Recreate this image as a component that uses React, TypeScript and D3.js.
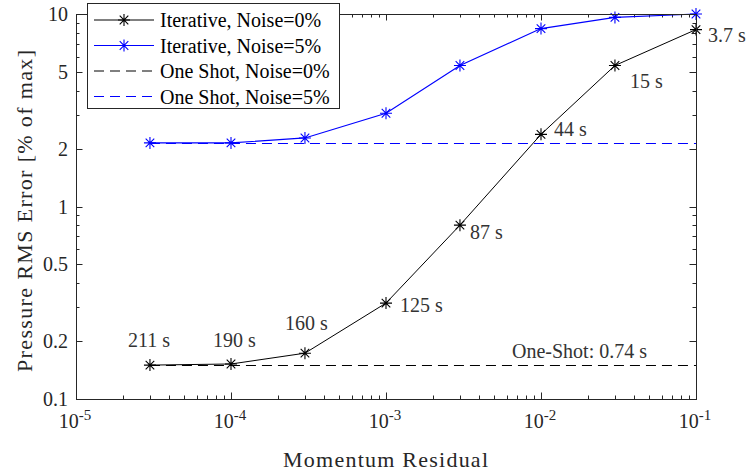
import React, { useEffect, useRef } from 'react'
import * as d3 from 'd3'

// momentum residual (x) and pressure RMS error in % of max (y)
const residuals = [3e-5, 1e-4, 3e-4, 1e-3, 3e-3, 1e-2, 3e-2, 1e-1]
const errIterNoise0 = [0.15, 0.152, 0.173, 0.315, 0.8, 2.37, 5.4, 8.3]
const errIterNoise5 = [2.14, 2.14, 2.27, 3.05, 5.4, 8.4, 9.6, 10.0]
const errOneShotNoise0 = 0.15
const errOneShotNoise5 = 2.13
const iterTimes = ['211 s', '190 s', '160 s', '125 s', '87 s', '44 s', '15 s', '3.7 s']
const oneShotTime = 'One-Shot: 0.74 s'
// pixel offsets of the time labels from their points
const timeOffsets: [number, number][] = [
  [-22, -18], [-18, -17], [-20, -23], [14, 9], [10, 14], [13, 2], [15, 22], [12, 12],
]
const yTicks = [0.1, 0.2, 0.5, 1, 2, 5, 10]
const xTickExps = [-5, -4, -3, -2, -1]
const legendLabels = [
  'Iterative, Noise=0%',
  'Iterative, Noise=5%',
  'One Shot, Noise=0%',
  'One Shot, Noise=5%',
]

const W = 750
const H = 475
const margin = { left: 76, right: 54, top: 14, bottom: 76 }
const FONT = 'Liberation Serif, DejaVu Serif, serif'
const AX = '#262626'
const BLUE = '#0000ff'

export default function App() {
  const ref = useRef<SVGSVGElement>(null)

  useEffect(() => {
    const svg = d3.select(ref.current)
    svg.selectAll('*').remove()

    const x0 = margin.left
    const x1 = W - margin.right
    const y0 = H - margin.bottom
    const y1 = margin.top

    const x = d3.scaleLog().domain([1e-5, 1e-1]).range([x0, x1])
    const y = d3.scaleLog().domain([0.1, 10]).range([y0, y1])

    const g = svg.append('g')

    // minor + major ticks, all four sides, pointing inward
    const xMinor: number[] = []
    for (let e = -5; e < -1; e++) for (let m = 2; m <= 9; m++) xMinor.push(m * Math.pow(10, e))
    const yMinor: number[] = []
    for (let e = -1; e < 1; e++) for (let m = 2; m <= 9; m++) yMinor.push(m * Math.pow(10, e))

    const tickG = g.append('g').attr('stroke', AX).attr('stroke-width', 1)
    const xMajor = xTickExps.map(e => Math.pow(10, e))
    const addX = (vals: number[], len: number) => {
      vals.forEach(v => {
        const px = Math.round(x(v)) + 0.5
        tickG.append('line').attr('x1', px).attr('x2', px).attr('y1', y0).attr('y2', y0 - len)
        tickG.append('line').attr('x1', px).attr('x2', px).attr('y1', y1).attr('y2', y1 + len)
      })
    }
    const addY = (vals: number[], len: number) => {
      vals.forEach(v => {
        const py = Math.round(y(v)) + 0.5
        tickG.append('line').attr('y1', py).attr('y2', py).attr('x1', x0).attr('x2', x0 + len)
        tickG.append('line').attr('y1', py).attr('y2', py).attr('x1', x1).attr('x2', x1 - len)
      })
    }
    addX(xMinor, 3.5)
    addX(xMajor, 6.5)
    addY(yMinor, 3.5)
    addY(yTicks, 6.5)

    // one-shot reference lines
    const dashed = (val: number, color: string) => {
      const py = Math.round(y(val)) + 0.5
      g.append('line')
        .attr('x1', x(residuals[0])).attr('x2', x(residuals[residuals.length - 1]))
        .attr('y1', py).attr('y2', py)
        .attr('stroke', color).attr('stroke-width', 1.1)
        .attr('stroke-dasharray', '10,6')
    }
    dashed(errOneShotNoise5, BLUE)
    dashed(errOneShotNoise0, '#000')

    const line = d3.line<[number, number]>().x(d => x(d[0])).y(d => y(d[1]))

    const star = (sel: d3.Selection<SVGGElement, unknown, null, undefined>, color: string) => {
      const r = 6
      const d = 4.3
      sel.append('path')
        .attr('d', `M0,${-r}V${r}M${-r},0H${r}M${-d},${-d}L${d},${d}M${-d},${d}L${d},${-d}`)
        .attr('stroke', color).attr('stroke-width', 1.1).attr('fill', 'none')
    }

    const series = (vals: number[], color: string, sw: number) => {
      const pts = residuals.map((r, i) => [r, vals[i]] as [number, number])
      g.append('path').attr('d', line(pts)).attr('fill', 'none')
        .attr('stroke', color).attr('stroke-width', sw)
      pts.forEach(p => {
        const m = g.append('g').attr('transform', `translate(${x(p[0])},${y(p[1])})`)
        star(m, color)
      })
    }
    series(errIterNoise5, BLUE, 1.2)
    series(errIterNoise0, '#000', 1)

    // axis box
    g.append('rect').attr('x', x0 + 0.5).attr('y', y1 + 0.5)
      .attr('width', x1 - x0).attr('height', y0 - y1)
      .attr('fill', 'none').attr('stroke', AX).attr('stroke-width', 1)

    // time annotations
    const ann = g.append('g').attr('font-family', FONT).attr('font-size', 20).attr('fill', '#333')
    iterTimes.forEach((t, i) => {
      ann.append('text')
        .attr('x', x(residuals[i]) + timeOffsets[i][0])
        .attr('y', y(errIterNoise0[i]) + timeOffsets[i][1])
        .text(t)
    })
    ann.append('text')
      .attr('x', x(residuals[residuals.length - 1]) - 49)
      .attr('y', y(errOneShotNoise0) - 7)
      .attr('text-anchor', 'end')
      .text(oneShotTime)

    // tick labels
    const lab = g.append('g').attr('font-family', FONT).attr('fill', AX)
    yTicks.forEach(v => {
      lab.append('text').attr('x', x0 - 8).attr('y', y(v)).attr('dy', '0.35em')
        .attr('text-anchor', 'end').attr('font-size', 20).text(String(v))
    })
    xTickExps.forEach(e => {
      const t = lab.append('text').attr('x', x(Math.pow(10, e)) - 1).attr('y', y0 + 29)
        .attr('text-anchor', 'middle').attr('font-size', 20)
      t.append('tspan').text('10')
      t.append('tspan').attr('dy', -8).attr('font-size', 15).text(String(e))
    })

    // axis titles
    lab.append('text').attr('x', 283).attr('y', 467)
      .attr('font-size', 22).attr('textLength', 205).attr('lengthAdjust', 'spacing')
      .text('Momentum Residual')
    lab.append('text').attr('transform', 'translate(32,372) rotate(-90)')
      .attr('font-size', 22).attr('textLength', 322).attr('lengthAdjust', 'spacing')
      .text('Pressure RMS Error [% of max]')

    // legend
    const lg = g.append('g')
    lg.append('rect').attr('x', 87.5).attr('y', 3.5).attr('width', 252).attr('height', 105)
      .attr('fill', '#fff').attr('stroke', AX).attr('stroke-width', 1)
    const legendColors = ['#000', BLUE, '#000', BLUE]
    legendLabels.forEach((l, i) => {
      const ly = 20 + i * 25.5
      const ln = lg.append('line').attr('x1', 94).attr('x2', 154).attr('y1', ly).attr('y2', ly)
        .attr('stroke', legendColors[i]).attr('stroke-width', i === 1 ? 1.2 : 1)
      if (i >= 2) ln.attr('stroke-dasharray', '10,6')
      if (i < 2) star(lg.append('g').attr('transform', `translate(124,${ly})`), legendColors[i])
      lg.append('text').attr('x', 160).attr('y', ly).attr('dy', '0.35em')
        .attr('font-family', FONT).attr('font-size', 20).attr('fill', '#000').text(l)
    })
  }, [])

  return (
    <svg ref={ref} width={W} height={H}
      style={{ position: 'absolute', left: 0, top: 0, background: '#fff' }} />
  )
}
